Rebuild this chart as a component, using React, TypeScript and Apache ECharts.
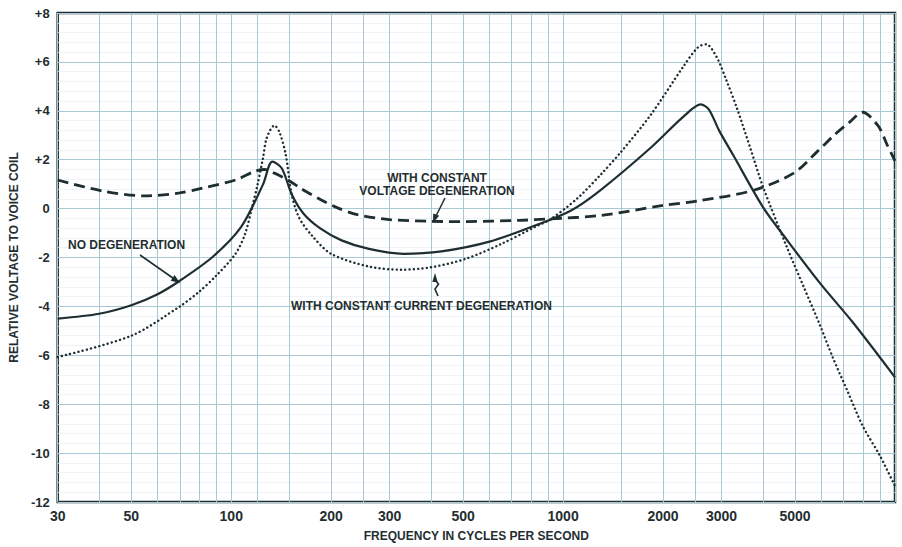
import React, { useEffect, useRef } from "react";
import * as echarts from "echarts";

// ---- axis ticks ----
const freqLabels = [30, 50, 100, 200, 300, 500, 1000, 2000, 3000, 5000];
const freqGrid = [
  30, 40, 50, 60, 70, 80, 90, 100, 120, 150, 200, 250, 300, 400, 500, 600, 700, 800, 900,
  1000, 1500, 2000, 2500, 3000, 4000, 5000, 6000, 7000, 8000, 9000, 10000,
];
const yMin = -12;
const yMax = 8;
const yStep = 2;

// ---- NO DEGENERATION (solid) ----
const noDegFreq = [
  30, 40, 50, 60, 70, 88, 107, 124.6, 133, 142, 152, 165, 185, 215, 260, 330, 430, 600, 820,
  1050, 1300, 1840, 2300, 2600, 2750, 2950, 3260, 4010, 4730, 5950, 7480, 10000,
];
const noDegVals = [
  -4.5, -4.3, -3.95, -3.5, -2.95, -1.97, -0.76, 0.98, 1.92, 1.65, 0.6, -0.2, -0.8, -1.3, -1.65,
  -1.85, -1.75, -1.35, -0.7, -0.1, 0.77, 2.5, 3.75, 4.26, 4.05, 3.2, 2.17, 0.04, -1.29, -3.06,
  -4.67, -6.9,
];

// ---- WITH CONSTANT CURRENT DEGENERATION (dotted) ----
const currentFreq = [
  30, 50, 70, 80, 90, 103, 110, 115.5, 120, 124.6, 128, 135, 140, 146, 152, 160, 175, 200, 260,
  326, 400, 510, 650, 820, 915, 1100, 1300, 1490, 1840, 2300, 2550, 2700, 2900, 3100, 3350, 3680,
  4000, 4730, 5300, 5950, 6500, 7200, 8000, 9000, 10000,
];
const currentVals = [
  -6.07, -5.2, -4.0, -3.4, -2.75, -1.85, -1.05, 0.04, 0.97, 2.05, 2.9, 3.4, 3.1, 2.2, 0.6, -0.36,
  -1.1, -1.85, -2.37, -2.5, -2.4, -2.05, -1.45, -0.76, -0.44, 0.4, 1.4, 2.3, 3.85, 5.8, 6.6, 6.72,
  6.2, 5.27, 4.06, 2.4, 0.9, -1.6, -3.18, -4.79, -6.1, -7.48, -8.9, -10.1, -11.35,
];

// ---- WITH CONSTANT VOLTAGE DEGENERATION (dashed) ----
const voltageFreq = [
  30, 41, 55, 70, 82, 103, 118, 126, 135, 149, 163, 184, 205, 240, 300, 400, 510, 740, 915, 1300,
  2000, 2560, 3750, 4950, 5830, 6530, 7300, 7990, 8900, 9490, 10000,
];
const voltageVals = [
  1.17, 0.72, 0.52, 0.64, 0.84, 1.17, 1.53, 1.6, 1.45, 1.15, 0.8, 0.4, 0.08, -0.25, -0.45, -0.52,
  -0.53, -0.48, -0.42, -0.28, 0.13, 0.32, 0.75, 1.45, 2.33, 2.98, 3.54, 3.94, 3.38, 2.58, 1.95,
];

const INK = "#1f2e30";
const GRID = "#a9c8d6";
const FONT = "'Liberation Sans', Arial, sans-serif";

const pairs = (xs: number[], ys: number[]) => xs.map((x, i) => [x, ys[i]]);

export default function App() {
  const ref = useRef<HTMLDivElement>(null);

  useEffect(() => {
    if (!ref.current) return;
    const chart = echarts.init(ref.current, undefined, { renderer: "svg" });

    const label = (x: number, y: number, text: string, align = "center") => ({
      type: "text",
      x,
      y,
      style: {
        text,
        fill: INK,
        font: `bold 12px ${FONT}`,
        lineHeight: 13,
        textAlign: align,
        textVerticalAlign: "middle",
      },
      z: 100,
    });

    chart.setOption({
      animation: false,
      backgroundColor: "#ffffff",
      grid: {
        left: 55,
        right: 7,
        top: 13,
        bottom: 37,
        show: true,
        borderColor: INK,
        borderWidth: 2.5,
        backgroundColor: "transparent",
      },
      xAxis: {
        type: "log",
        logBase: 10,
        min: 30,
        max: 10000,
        name: "FREQUENCY IN CYCLES PER SECOND",
        nameLocation: "middle",
        nameGap: 28,
        nameTextStyle: { color: INK, fontSize: 12, fontWeight: "bold", fontFamily: FONT },
        axisLine: { show: false },
        axisTick: { show: false, customValues: freqGrid },
        axisLabel: {
          customValues: freqLabels,
          margin: 7,
          color: INK,
          fontSize: 14,
          fontWeight: "bold",
          fontFamily: FONT,
          formatter: (v: number) => String(Math.round(v)),
        },
        splitLine: { show: true, lineStyle: { color: GRID, width: 1 } },
      },
      yAxis: {
        type: "value",
        min: yMin,
        max: yMax,
        interval: yStep,
        name: "RELATIVE VOLTAGE TO VOICE COIL",
        nameLocation: "middle",
        nameGap: 37,
        nameTextStyle: { color: INK, fontSize: 12, fontWeight: "bold", fontFamily: FONT },
        axisLine: { show: false },
        axisTick: { show: false },
        axisLabel: {
          margin: 8,
          color: INK,
          fontSize: 13,
          fontWeight: "bold",
          fontFamily: FONT,
          formatter: (v: number) => (v > 0 ? `+${v}` : `${v}`),
        },
        splitLine: { show: true, lineStyle: { color: GRID, width: 1.2 } },
        minorTick: { show: false, splitNumber: 5 },
        minorSplitLine: { show: true, lineStyle: { color: "#dce9ef", width: 1, type: "dotted" } },
      },
      series: [
        {
          name: "WITH CONSTANT VOLTAGE DEGENERATION",
          type: "line",
          data: pairs(voltageFreq, voltageVals),
          showSymbol: false,
          smooth: 0.3,
          lineStyle: { color: INK, width: 2.8, type: [11, 6] },
          z: 3,
        },
        {
          name: "NO DEGENERATION",
          type: "line",
          data: pairs(noDegFreq, noDegVals),
          showSymbol: false,
          smooth: 0.3,
          lineStyle: { color: INK, width: 2.2 },
          z: 4,
        },
        {
          name: "WITH CONSTANT CURRENT DEGENERATION",
          type: "line",
          data: pairs(currentFreq, currentVals),
          showSymbol: false,
          smooth: 0.3,
          lineStyle: { color: INK, width: 2.4, type: [0.1, 4.2], cap: "round" },
          z: 5,
        },
      ],
      graphic: [
        label(437, 184, "WITH CONSTANT\nVOLTAGE DEGENERATION"),
        label(68, 245, "NO DEGENERATION", "left"),
        label(291, 306, "WITH CONSTANT CURRENT DEGENERATION", "left"),
        // arrow: NO DEGENERATION
        {
          type: "line",
          shape: { x1: 140, y1: 255, x2: 175, y2: 279.5 },
          style: { stroke: INK, lineWidth: 1.6 },
          z: 100,
        },
        {
          type: "polygon",
          shape: { points: [[180, 283], [170.6, 280.7], [174.6, 274.9]] },
          style: { fill: INK },
          z: 100,
        },
        // arrow: VOLTAGE
        {
          type: "line",
          shape: { x1: 445, y1: 198, x2: 436, y2: 216 },
          style: { stroke: INK, lineWidth: 1.6 },
          z: 100,
        },
        {
          type: "polygon",
          shape: { points: [[433, 223], [433.2, 213.5], [439.2, 215.8]] },
          style: { fill: INK },
          z: 100,
        },
        // arrow: CURRENT
        {
          type: "polyline",
          shape: { points: [[438, 296], [435, 289], [438.5, 284], [435, 280]] },
          style: { stroke: INK, lineWidth: 1.6, fill: "none" },
          z: 100,
        },
        {
          type: "polygon",
          shape: { points: [[435, 273], [432.3, 282], [437.7, 282]] },
          style: { fill: INK },
          z: 100,
        },
      ],
    });

    return () => chart.dispose();
  }, []);

  return (
    <div
      ref={ref}
      style={{ position: "fixed", left: 0, top: 0, width: 902, height: 547, background: "#fff" }}
    />
  );
}
